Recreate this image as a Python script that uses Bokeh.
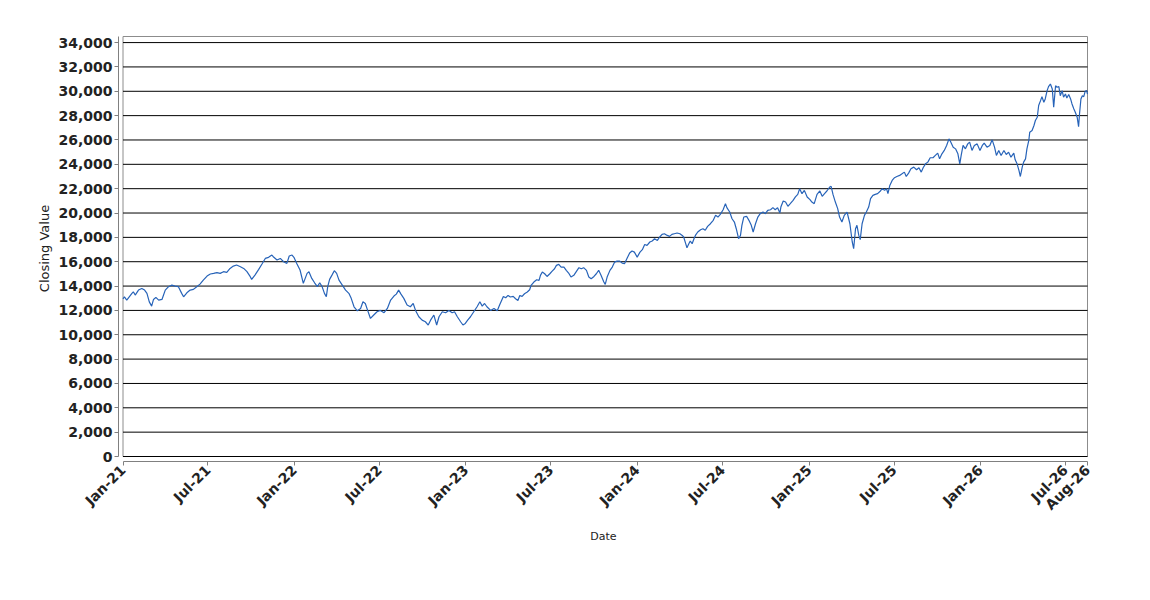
import math
import pandas as pd
from bokeh.plotting import figure
from bokeh.models import Range1d, FixedTicker, DatetimeTickFormatter, NumeralTickFormatter, BoxAnnotation
from bokeh.embed import file_html
from bokeh.resources import INLINE

# ---------------- data ----------------
start_date = "2021-01-01"
end_date = "2026-08-17"
x_tick_dates = ["2021-01-01", "2021-07-01", "2022-01-01", "2022-07-01", "2023-01-01",
                "2023-07-01", "2024-01-01", "2024-07-01", "2025-01-01", "2025-07-01",
                "2026-01-01", "2026-07-01", "2026-08-17"]
y_ticks = list(range(0, 34001, 2000))
y_max = 34500

# days since 2021-01-01
day_offset = [
    0, 3, 8, 19, 22, 26, 33, 40, 46, 51, 56, 61, 65, 70, 76, 83, 90, 97, 104, 111,
    118, 125, 129, 136, 143, 150, 157, 164, 171, 179, 186, 193, 200, 207, 214, 221,
    228, 235, 242, 250, 257, 264, 271, 274, 281, 289, 296, 303, 310, 317, 320, 328,
    335, 342, 349, 354, 360, 364, 370, 377, 384, 392, 396, 402,
    408, 414, 419, 424, 429, 433, 436, 440, 445, 450, 455, 460, 467, 474, 481, 486,
    492, 499, 506, 511, 516, 521, 527, 534, 541, 548, 556, 563, 570, 577, 582, 587,
    592, 598, 605, 612, 618, 623, 630, 637, 644, 650, 655, 662, 668, 673, 680, 687,
    694, 701, 706, 712, 719, 724, 729, 734, 740, 747, 754, 760, 765, 770, 775, 783,
    790, 797, 802,
    810, 815, 820, 825, 831, 836, 841, 845, 850, 855, 861, 866, 869, 875, 881, 886,
    889, 893, 898, 903, 909, 914, 919, 923, 928, 933, 939, 944, 949, 954, 960, 966,
    971, 976, 981, 987, 992, 997, 1003, 1008, 1013, 1018, 1024, 1027, 1031, 1037,
    1042, 1047, 1052, 1058, 1063, 1068, 1074, 1079, 1084, 1089, 1095, 1101, 1106,
    1111, 1116, 1122, 1127, 1132, 1138, 1143, 1148, 1153, 1159, 1164, 1169, 1174,
    1180, 1186, 1191, 1194, 1198, 1201, 1205,
    1208, 1212, 1216, 1219, 1224, 1230, 1235, 1240, 1245, 1251, 1257, 1262, 1267,
    1272, 1278, 1283, 1286, 1292, 1297, 1302, 1306, 1311, 1315, 1318, 1322, 1328,
    1333, 1338, 1342, 1347, 1352, 1357, 1363, 1368, 1373, 1379, 1384, 1389, 1394,
    1399, 1401, 1406, 1411, 1416, 1421, 1427, 1432, 1437, 1441, 1446, 1451, 1457,
    1463, 1467, 1472, 1478, 1484, 1489, 1494, 1499, 1505, 1508, 1512, 1517, 1522,
    1526, 1531, 1536, 1542, 1548, 1553, 1556, 1560, 1563, 1567, 1570, 1574, 1579,
    1583, 1588, 1592, 1597, 1602, 1607, 1613,
    1617, 1622, 1626, 1629, 1633, 1638, 1643, 1648, 1654, 1659, 1664, 1668, 1673,
    1678, 1684, 1690, 1695, 1700, 1704, 1709, 1714, 1719, 1725, 1730, 1735, 1739,
    1744, 1749, 1754, 1759, 1762, 1768, 1773, 1778, 1782, 1785, 1789, 1794, 1799,
    1803, 1808, 1813, 1819, 1825, 1830, 1834, 1840, 1846, 1851, 1856, 1860, 1865,
    1870, 1876, 1881, 1886, 1891, 1897, 1900, 1904, 1908, 1911, 1915, 1918, 1922,
    1925, 1929, 1931, 1936, 1940, 1943, 1947, 1950, 1954, 1957, 1961, 1964, 1968,
    1971, 1975, 1979, 1982, 1986, 1989, 1993, 1996, 2000, 2003, 2007, 2010, 2014,
    2018, 2021, 2025, 2028, 2032, 2035, 2037, 2040, 2043, 2046, 2049, 2052, 2054,
]

closing_value = [
    12950, 13120, 12850, 13400, 13530, 13260, 13670, 13800, 13670, 13400, 12700, 12350,
    12900, 13070, 12850, 12900, 13670, 13950, 14080, 14000, 13950, 13400, 13120, 13450,
    13670, 13730, 13950, 14160, 14490, 14820, 14990, 15040, 15100, 15040, 15180, 15120,
    15450, 15640, 15730, 15590, 15450, 15180, 14770, 14550, 14900, 15370, 15810, 16270,
    16360, 16550, 16410, 16140, 16270, 16000, 15860, 16470, 16550, 16360, 15860, 15320,
    14220, 15040, 15180, 14630,
    14270, 13950, 14270, 13950, 13400, 13120, 13950, 14550, 14900, 15260, 15040, 14490,
    14080, 13670, 13400, 12990, 12300, 11970, 12160, 12710, 12570, 12000, 11340, 11620,
    11890, 12000, 11810, 12160, 12850, 13180, 13340, 13670, 13340, 12990, 12440, 12300,
    12570, 12000, 11480, 11200, 11070, 10800, 11200, 11620, 10800, 11480, 11890, 11810,
    12000, 11810, 11890, 11480, 11070, 10800, 10930, 11200, 11480, 11890, 12300, 12710,
    12350, 12570, 12300, 12000, 12160, 11970, 12440,
    13150, 13040, 13230, 13100, 13150, 12960, 12820, 13230, 13150, 13370, 13510, 13700,
    14050, 14330, 14520, 14470, 14880, 15150, 15010, 14790, 15010, 15230, 15420, 15700,
    15780, 15560, 15560, 15290, 15070, 14740, 14880, 15230, 15510, 15420, 15510, 15290,
    14740, 14600, 14790, 15010, 15290, 14880, 14330, 14140, 14740, 15290, 15560, 15970,
    16050, 16050, 15890, 15840, 16330, 16710, 16880, 16790, 16380, 16790, 16990, 17420,
    17340, 17620, 17700, 17890, 17750, 18030, 18250, 18300, 18160, 18080, 18250, 18300,
    18360, 18300, 18160, 18030, 17530, 17150, 17480,
    17700, 17480, 17890, 18160, 18440, 18630, 18710, 18580, 18900, 19120, 19400, 19810,
    19670, 19890, 20270, 20770, 20440, 20080, 19530, 19260, 18710, 17890, 18160, 18990,
    19670, 19730, 19400, 18990, 18440, 19120, 19670, 19950, 20080, 19950, 20220, 20270,
    20440, 20270, 20440, 20000, 20490, 20990, 20900, 20550, 20770, 21040, 21320, 21530,
    22000, 21590, 21860, 21320, 21100, 20900, 20770, 21530, 21810, 21370, 21590, 21810,
    22140, 22190, 21530, 20900, 20360, 19670, 19260, 19810, 20080, 19120, 17620, 17070,
    18710, 18990, 18160, 17810, 19120, 19810, 20080, 20490, 21180, 21450, 21530, 21590,
    21810,
    22000, 21860, 22000, 21590, 22270, 22680, 22900, 23000, 23090, 23220, 23360, 23000,
    23280, 23630, 23770, 23550, 23720, 23360, 23720, 24040, 24180, 24540, 24540, 24730,
    24920, 24450, 24860, 25140, 25550, 26090, 25900, 25410, 25270, 24860, 24040, 24730,
    25550, 25270, 25680, 25820, 25140, 25550, 25680, 25140, 25550, 25740, 25410, 25550,
    26010, 25410, 24730, 25140, 24730, 25140, 24810, 25000, 24590, 24920, 24370, 24040,
    23500, 23000, 23770, 24180, 24450, 25270, 25960, 26640, 26780, 27190, 27600, 27870,
    28830, 29230, 29560, 29100, 29370, 30050, 30380, 30600, 30190, 28690, 30460, 30330,
    30380, 29640, 30050, 29510, 29780, 29450, 29730, 29370, 28960, 28550, 28280, 27870,
    27100, 28140, 29370, 29640, 29560, 30000, 30050, 29780,
]

# ---------------- build ----------------
MS_PER_DAY = 86400000.0


def ms(t):
    return pd.Timestamp(t).value / 1e6


t0 = pd.Timestamp(start_date)
dates = t0 + pd.to_timedelta(day_offset, unit="D")

x_start = ms(start_date)
x_end = ms(end_date)
span_days = (x_end - x_start) / MS_PER_DAY
box_w = 964.5
px_per_day = box_w / span_days
pad_left = 4.5 / px_per_day * MS_PER_DAY
pad_right = 1.0 / px_per_day * MS_PER_DAY

box_h = 420.0
units_per_px = y_max / box_h

p = figure(width=1142, height=592, x_axis_type="datetime",
           output_backend="svg", toolbar_location=None,
           min_border_left=118, min_border_right=54,
           min_border_top=35, min_border_bottom=131,
           x_range=Range1d(x_start - pad_left, x_end + pad_right),
           y_range=Range1d(-5 * units_per_px, y_max + 1 * units_per_px))
p.outline_line_color = None
p.background_fill_color = "white"
p.border_fill_color = "white"
p.xgrid.visible = False
p.ygrid.visible = False

# horizontal grid lines across the plot box
p.segment(x0=[x_start] * len(y_ticks), x1=[x_end] * len(y_ticks),
          y0=y_ticks, y1=y_ticks, line_color="black", line_width=1)

# plot box outline
p.add_layout(BoxAnnotation(left=x_start, right=x_end, bottom=0, top=y_max,
                           fill_color=None, line_color="#8c8c8c", line_alpha=1.0,
                           line_width=1, level="underlay"))

p.line(dates, closing_value, line_color="#2763b8", line_width=1.2)

fmt = "%b-%y"
xa = p.xaxis[0]
xa.ticker = FixedTicker(ticks=[ms(d) for d in x_tick_dates])
xa.formatter = DatetimeTickFormatter(days=fmt, months=fmt, years=fmt, hours=fmt,
                                     hourmin=fmt, minutes=fmt)
xa.bounds = (x_start, x_end)
xa.major_label_orientation = math.pi / 4
xa.axis_label = "Date"
xa.axis_label_standoff = 9

ya = p.yaxis[0]
ya.ticker = FixedTicker(ticks=y_ticks)
ya.formatter = NumeralTickFormatter(format="0,0")
ya.bounds = (0, y_max)
ya.axis_label = "Closing Value"
ya.axis_label_standoff = 3

for ax in (xa, ya):
    ax.axis_line_color = "#808080"
    ax.major_tick_line_color = "#808080"
    ax.major_tick_out = 4
    ax.major_tick_in = 0
    ax.minor_tick_line_color = None
    ax.major_label_standoff = 2
    ax.major_label_text_font = "DejaVu Sans"
    ax.major_label_text_font_style = "bold"
    ax.major_label_text_font_size = "14px"
    ax.major_label_text_color = "#222222"
    ax.axis_label_text_font = "DejaVu Sans"
    ax.axis_label_text_font_style = "normal"
    ax.axis_label_text_color = "#222222"

xa.axis_label_text_font_size = "11px"
ya.axis_label_text_font_size = "13px"

open("out.html", "w").write(file_html(p, INLINE))
